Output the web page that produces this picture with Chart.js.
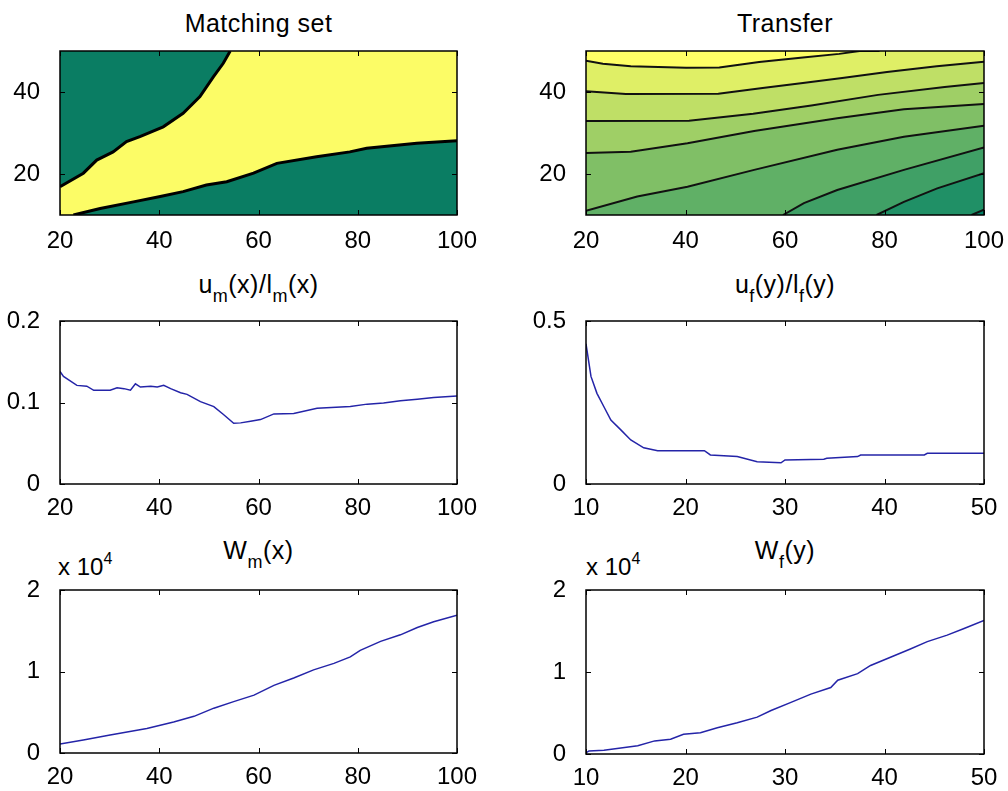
<!DOCTYPE html>
<html>
<head>
<meta charset="utf-8">
<script src="https://cdn.jsdelivr.net/npm/chart.js@4.4.1/dist/chart.umd.min.js"></script>
<style>
  html, body { margin: 0; padding: 0; background: #fff; }
  body { width: 1008px; height: 791px; position: relative; overflow: hidden;
         font-family: "Liberation Sans", Arial, Helvetica, sans-serif; color: #000; }
  .plot { position: absolute; }
  .title { position: absolute; text-align: center; font-size: 25px; line-height: 25px;
           letter-spacing: 0.5px; white-space: nowrap; }
  .title .sb { font-size: 18px; position: relative; top: 9px; }
  .expo { position: absolute; font-size: 24px; line-height: 24px; white-space: nowrap; }
  .expo .sp { font-size: 16px; position: relative; top: -11px; }
</style>
</head>
<body>

<div class="title" style="left:60px; width:397px; top:11px;">Matching set</div>
<div class="title" style="left:586px; width:398px; top:11px;">Transfer</div>
<div class="title" style="left:60px; width:397px; top:272px;">u<span class="sb">m</span>(x)/l<span class="sb">m</span>(x)</div>
<div class="title" style="left:586px; width:398px; top:272px;">u<span class="sb">f</span>(y)/l<span class="sb">f</span>(y)</div>
<div class="title" style="left:60px; width:397px; top:538px;">W<span class="sb">m</span>(x)</div>
<div class="title" style="left:586px; width:398px; top:538px;">W<span class="sb">f</span>(y)</div>
<div class="expo" style="left:58px; top:555px;">x 10<span class="sp">4</span></div>
<div class="expo" style="left:586px; top:555px;">x 10<span class="sp">4</span></div>

<div class="plot" id="wrapMatch"><canvas id="chartMatch"></canvas></div>
<div class="plot" id="wrapTransfer"><canvas id="chartTransfer"></canvas></div>
<div class="plot" id="wrapUm"><canvas id="chartUm"></canvas></div>
<div class="plot" id="wrapUf"><canvas id="chartUf"></canvas></div>
<div class="plot" id="wrapWm"><canvas id="chartWm"></canvas></div>
<div class="plot" id="wrapWf"><canvas id="chartWf"></canvas></div>

<script>
/* ======================================================
   Data
=========================================================*/
// tick values
const xTicksM = [20, 40, 60, 80, 100];
const xTicksF = [10, 20, 30, 40, 50];
const yTicksMap = [20, 40];
const yTicksUm = [0, 0.1, 0.2];
const yTicksUf = [0, 0.5];
const yTicksW = [0, 10000, 20000];

// Matching set: boundaries of the yellow band
const matchUpperX = [20, 24.7, 27.4, 30.7, 33.4, 36.1, 40.8, 44.8, 48.2, 50.9, 52.9, 54.3];
const matchUpperY = [16.9, 20.2, 23.4, 25.4, 27.9, 29.1, 31.5, 34.8, 38.9, 43.7, 47.0, 50];
const matchLowerX = [22.7, 28.1, 34.8, 40.2, 44.8, 49.5, 53.6, 59.0, 63.7, 71.7, 78.4, 81.8, 91.9, 100];
const matchLowerY = [10, 11.6, 13.2, 14.5, 15.7, 17.3, 18.1, 20.2, 22.6, 24.2, 25.4, 26.3, 27.5, 28.1];

// Transfer: contour lines, top to bottom
const level1X = [20, 23.4, 29, 40.1, 46.8, 54.8, 63.6, 70.9, 75, 79];
const level1Y = [47.6, 46.9, 46.3, 45.9, 46.0, 47.3, 48.4, 49.3, 50, 50];
const level2X = [20, 28, 46.6, 55.5, 63.6, 71.5, 80.5, 90.5, 100];
const level2Y = [40.2, 39.5, 39.6, 41.0, 42.2, 43.4, 44.9, 46.3, 47.4];
const level3X = [20, 40.7, 53.6, 65.3, 78.7, 92.1, 100];
const level3Y = [32.9, 33.0, 34.7, 36.7, 39.3, 41.2, 42.2];
const level4X = [20, 29, 40.4, 53.8, 70.5, 83.9, 100];
const level4Y = [25.1, 25.4, 27.5, 30.5, 33.6, 35.8, 37.1];
const level5X = [20, 30.3, 40.4, 53.8, 70.5, 83.9, 100];
const level5Y = [11, 14.5, 16.9, 21, 25.9, 29.1, 31.8];
const level6X = [59.6, 63.8, 70.5, 83.9, 100];
const level6Y = [10, 12.9, 16.1, 21, 26.5];
const level7X = [78.4, 83.9, 90.6, 100];
const level7Y = [10, 13.2, 16.5, 20.2];
const level8X = [97.5, 100];
const level8Y = [10, 11.3];

// u_m(x)/l_m(x)
const umX = [20, 20.7, 23.4, 25.4, 26.8, 30.1, 31.5, 32.9, 34.2, 35.2, 36.2, 38.3, 39.6, 40.9, 42.3, 44.3, 45.6, 48.3, 51, 53, 55, 56.4, 58.4, 60.4, 63.1, 67.1, 71.8, 78.5, 81.9, 85.2, 88.6, 92, 95.3, 100];
const umY = [0.138, 0.132, 0.121, 0.120, 0.115, 0.115, 0.118, 0.117, 0.115, 0.123, 0.119, 0.120, 0.119, 0.121, 0.117, 0.112, 0.110, 0.101, 0.095, 0.085, 0.0745, 0.075, 0.077, 0.079, 0.086, 0.0865, 0.093, 0.095, 0.098, 0.0995, 0.102, 0.104, 0.106, 0.108];

// u_f(y)/l_f(y)
const ufX = [10, 10.3, 10.5, 11.1, 11.8, 12.5, 13.5, 14.5, 15.8, 17.2, 21.9, 22.5, 25.2, 27.2, 29.6, 30.0, 33.9, 34.2, 37.3, 37.6, 44, 44.3, 50];
const ufY = [0.43, 0.37, 0.33, 0.278, 0.237, 0.196, 0.166, 0.135, 0.111, 0.102, 0.102, 0.089, 0.084, 0.068, 0.065, 0.074, 0.076, 0.079, 0.084, 0.089, 0.089, 0.094, 0.094];

// W_m(x)
const wmX = [20, 24.7, 30.1, 37.5, 42.9, 47, 51, 55, 59.1, 63.1, 67.1, 71.1, 75.2, 78.5, 80.5, 84.6, 88.6, 92, 95.3, 100];
const wmY = [1100, 1600, 2200, 3000, 3800, 4500, 5500, 6300, 7100, 8300, 9200, 10200, 11000, 11800, 12600, 13700, 14500, 15400, 16100, 16900];

// W_f(y)
const wfX = [10, 10.3, 11.8, 15.2, 16.9, 18.5, 19.8, 21.5, 23.2, 25.2, 27.2, 28.6, 30.6, 32.6, 34.6, 35.3, 37.3, 38.6, 40.6, 42.6, 44.3, 46.3, 48, 50];
const wfY = [150, 370, 450, 1000, 1600, 1800, 2400, 2600, 3200, 3800, 4500, 5300, 6300, 7300, 8100, 9000, 9800, 10800, 11800, 12800, 13700, 14500, 15300, 16300];

/* ======================================================
   Look
=========================================================*/
const GREEN = "#0a7d63";
const YELLOW = "#fcfc66";
const BLUE = "#2424a8";
// summer colormap, darkest region first
const levelColors = ["#008066", "#209066", "#40a066", "#60b066", "#80bf66", "#9fcf66", "#bfdf66", "#dfef66", "#ffff66"];

// PAD_TOP must cover half a tick label plus the y tick padding,
// otherwise Chart.js pushes the plot area down
const PAD_TOP = 30, PAD_RIGHT = 26, Y_W = 60, X_H = 42;
const tickFont = { family: "'Liberation Sans', Arial, sans-serif", size: 24 };

/* ======================================================
   Plugins: area background, MATLAB style box with inward ticks
=========================================================*/
const areaBg = {
  id: "areaBg",
  beforeDatasetsDraw(chart, args, opts) {
    if (!opts || !opts.color) return;
    const a = chart.chartArea;
    chart.ctx.save();
    chart.ctx.fillStyle = opts.color;
    chart.ctx.fillRect(a.left, a.top, a.width, a.height);
    chart.ctx.restore();
  }
};

const matlabBox = {
  id: "matlabBox",
  afterDatasetsDraw(chart) {
    const { ctx, chartArea: a, scales } = chart;
    const len = 5;
    ctx.save();
    ctx.strokeStyle = "#000";
    ctx.lineWidth = 1;
    ctx.beginPath();
    scales.x.ticks.forEach((t) => {
      const px = Math.round(scales.x.getPixelForValue(t.value)) + 0.5;
      ctx.moveTo(px, a.bottom); ctx.lineTo(px, a.bottom - len);
      ctx.moveTo(px, a.top); ctx.lineTo(px, a.top + len);
    });
    scales.y.ticks.forEach((t) => {
      const py = Math.round(scales.y.getPixelForValue(t.value)) + 0.5;
      ctx.moveTo(a.left, py); ctx.lineTo(a.left + len, py);
      ctx.moveTo(a.right, py); ctx.lineTo(a.right - len, py);
    });
    ctx.stroke();
    ctx.lineWidth = 1.5;
    ctx.strokeRect(a.left, a.top, a.width, a.height);
    ctx.restore();
  }
};

/* ======================================================
   Helpers
=========================================================*/
function points(xs, ys) {
  return xs.map((x, i) => ({ x: x, y: ys[i] }));
}

function place(id, box) {
  const el = document.getElementById(id);
  el.style.left = box.left - Y_W + "px";
  el.style.top = box.top - PAD_TOP + "px";
  el.style.width = box.right - box.left + Y_W + PAD_RIGHT + "px";
  el.style.height = box.bottom - box.top + PAD_TOP + X_H + "px";
}

function axesOptions(xMin, xMax, xTicks, yMin, yMax, yTicks, yFmt, bg, xPad) {
  return {
    responsive: true,
    maintainAspectRatio: false,
    animation: false,
    layout: { padding: { top: PAD_TOP, right: PAD_RIGHT, left: 0, bottom: 0 } },
    plugins: {
      legend: { display: false },
      tooltip: { enabled: false },
      areaBg: { color: bg || null }
    },
    elements: { point: { radius: 0 }, line: { tension: 0 } },
    scales: {
      x: {
        type: "linear", min: xMin, max: xMax,
        grid: { display: false }, border: { display: false },
        afterBuildTicks: (s) => { s.ticks = xTicks.map((v) => ({ value: v })); },
        afterFit: (s) => { s.height = X_H; },
        ticks: { font: tickFont, color: "#000", padding: xPad, maxRotation: 0, autoSkip: false }
      },
      y: {
        type: "linear", min: yMin, max: yMax,
        grid: { display: false }, border: { display: false },
        afterBuildTicks: (s) => { s.ticks = yTicks.map((v) => ({ value: v })); },
        afterFit: (s) => { s.width = Y_W; },
        ticks: { font: tickFont, color: "#000", padding: 12, autoSkip: false,
                 callback: yFmt || ((v) => String(v)) }
      }
    }
  };
}

function lineSet(xs, ys, extra) {
  return Object.assign({
    data: points(xs, ys),
    borderColor: BLUE,
    borderWidth: 1.5,
    pointRadius: 0,
    fill: false
  }, extra || {});
}

/* ======================================================
   Layout boxes (plot areas in page pixels)
=========================================================*/
const boxes = {
  wrapMatch:    { left: 60,  right: 457, top: 51,  bottom: 215 },
  wrapTransfer: { left: 586, right: 984, top: 51,  bottom: 215 },
  wrapUm:       { left: 60,  right: 457, top: 321, bottom: 484 },
  wrapUf:       { left: 586, right: 984, top: 321, bottom: 484 },
  wrapWm:       { left: 60,  right: 457, top: 590, bottom: 753 },
  wrapWf:       { left: 586, right: 984, top: 590, bottom: 754 }
};
Object.keys(boxes).forEach((k) => place(k, boxes[k]));

/* ======================================================
   Charts
=========================================================*/
// Matching set
new Chart(document.getElementById("chartMatch"), {
  type: "line",
  data: {
    datasets: [
      lineSet(matchUpperX, matchUpperY, { borderColor: "#000", borderWidth: 3, fill: "end", backgroundColor: GREEN }),
      lineSet(matchLowerX, matchLowerY, { borderColor: "#000", borderWidth: 3, fill: "start", backgroundColor: GREEN })
    ]
  },
  options: axesOptions(20, 100, xTicksM, 10, 50, yTicksMap, null, YELLOW, 4),
  plugins: [areaBg, matlabBox]
});

// Transfer (filled contours): each line fills down with the colour below it,
// upper lines drawn first (higher order value = drawn earlier)
const contourLines = [
  [level2X, level2Y], [level3X, level3Y], [level4X, level4Y], [level5X, level5Y],
  [level6X, level6Y], [level7X, level7Y], [level8X, level8Y]
];
const transferSets = contourLines.map((ln, i) =>
  lineSet(ln[0], ln[1], {
    borderColor: "#111", borderWidth: 2, fill: "start",
    backgroundColor: levelColors[6 - i], order: 20 - i
  })
);
transferSets.push(lineSet(level1X, level1Y, {
  borderColor: "#111", borderWidth: 2, fill: "end",
  backgroundColor: levelColors[8], order: 30
}));

new Chart(document.getElementById("chartTransfer"), {
  type: "line",
  data: { datasets: transferSets },
  options: axesOptions(20, 100, xTicksM, 10, 50, yTicksMap, null, levelColors[7], 4),
  plugins: [areaBg, matlabBox]
});

// u_m(x)/l_m(x)
new Chart(document.getElementById("chartUm"), {
  type: "line",
  data: { datasets: [lineSet(umX, umY)] },
  options: axesOptions(20, 100, xTicksM, 0, 0.2, yTicksUm, null, null, 2),
  plugins: [matlabBox]
});

// u_f(y)/l_f(y)
new Chart(document.getElementById("chartUf"), {
  type: "line",
  data: { datasets: [lineSet(ufX, ufY)] },
  options: axesOptions(10, 50, xTicksF, 0, 0.5, yTicksUf, null, null, 2),
  plugins: [matlabBox]
});

// W_m(x), W_f(y) shown in units of 10^4
const perTenK = (v) => String(v / 10000);

new Chart(document.getElementById("chartWm"), {
  type: "line",
  data: { datasets: [lineSet(wmX, wmY)] },
  options: axesOptions(20, 100, xTicksM, 0, 20000, yTicksW, perTenK, null, 2),
  plugins: [matlabBox]
});

new Chart(document.getElementById("chartWf"), {
  type: "line",
  data: { datasets: [lineSet(wfX, wfY)] },
  options: axesOptions(10, 50, xTicksF, 0, 20000, yTicksW, perTenK, null, 2),
  plugins: [matlabBox]
});
</script>
</body>
</html>
